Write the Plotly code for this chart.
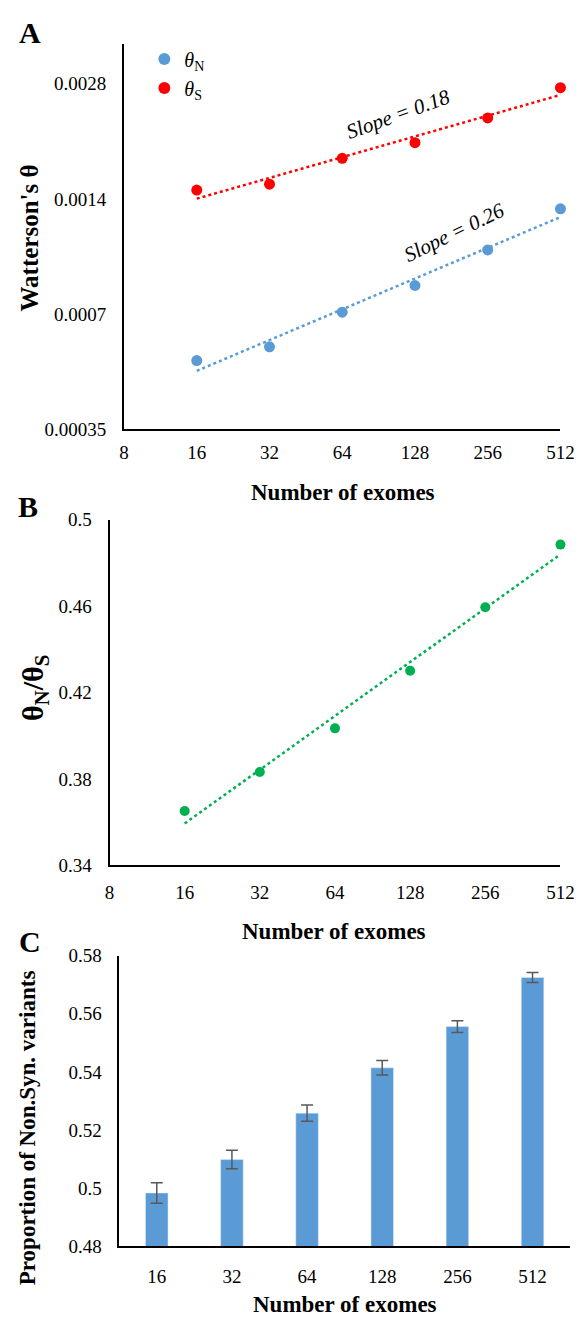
import numpy as np
import plotly.graph_objects as go

# ---------------- data ----------------
exomes = [16, 32, 64, 128, 256, 512]
exome_labels = ["16", "32", "64", "128", "256", "512"]
x_tick_vals = [8, 16, 32, 64, 128, 256, 512]
x_tick_text = ["8", "16", "32", "64", "128", "256", "512"]

theta_N = [0.000529, 0.000575, 0.000708, 0.000832, 0.00103, 0.001319]
theta_S = [0.001477, 0.00153, 0.001787, 0.001964, 0.00228, 0.002734]
yA_tick_vals = [0.00035, 0.0007, 0.0014, 0.0028]
yA_tick_text = ["0.00035", "0.0007", "0.0014", "0.0028"]

ratio_NS = [0.3651, 0.3832, 0.4034, 0.4301, 0.4595, 0.4885]
yB_tick_vals = [0.34, 0.38, 0.42, 0.46, 0.5]
yB_tick_text = ["0.34", "0.38", "0.42", "0.46", "0.5"]

prop_nonsyn = [0.4983, 0.5098, 0.5258, 0.5414, 0.5556, 0.5725]
prop_err = [0.0035, 0.0032, 0.0028, 0.0025, 0.0020, 0.0017]
yC_tick_vals = [0.48, 0.5, 0.52, 0.54, 0.56, 0.58]
yC_tick_text = ["0.48", "0.5", "0.52", "0.54", "0.56", "0.58"]

BLUE = "#5B9BD5"
RED = "#FF0000"
GREEN = "#00B050"
FONT = "Liberation Serif"

W, H = 588, 1325
def px(x):
    return x / W
def py(y):
    return 1 - y / H

# ---------------- fits ----------------
lx = np.log2(exomes)
def power_fit(vals):
    b, a = np.polyfit(lx, np.log2(vals), 1)
    return list(2 ** (a + b * lx))
def log_fit(vals):
    b, a = np.polyfit(lx, vals, 1)
    return list(a + b * lx)

fit_N = power_fit(theta_N)
fit_S = power_fit(theta_S)
fit_R = log_fit(ratio_NS)

fig = go.Figure()

# Panel A
fig.add_trace(go.Scatter(x=exomes, y=fit_N, mode="lines", xaxis="x", yaxis="y", cliponaxis=False,
                         line=dict(color=BLUE, width=2.5, dash="dot"), showlegend=False, hoverinfo="skip"))
fig.add_trace(go.Scatter(x=exomes, y=fit_S, mode="lines", xaxis="x", yaxis="y", cliponaxis=False,
                         line=dict(color=RED, width=2.5, dash="dot"), showlegend=False, hoverinfo="skip"))
fig.add_trace(go.Scatter(x=exomes, y=theta_N, mode="markers", xaxis="x", yaxis="y", cliponaxis=False,
                         marker=dict(color=BLUE, size=11), name="<i>θ</i><sub>N</sub>"))
fig.add_trace(go.Scatter(x=exomes, y=theta_S, mode="markers", xaxis="x", yaxis="y", cliponaxis=False,
                         marker=dict(color=RED, size=11), name="<i>θ</i><sub>S</sub>"))

# Panel B
fig.add_trace(go.Scatter(x=exomes, y=fit_R, mode="lines", xaxis="x2", yaxis="y2", cliponaxis=False,
                         line=dict(color=GREEN, width=2.5, dash="dot"), showlegend=False, hoverinfo="skip"))
fig.add_trace(go.Scatter(x=exomes, y=ratio_NS, mode="markers", xaxis="x2", yaxis="y2", cliponaxis=False,
                         marker=dict(color=GREEN, size=10), showlegend=False))

# Panel C
fig.add_trace(go.Bar(x=exome_labels, y=prop_nonsyn, xaxis="x3", yaxis="y3", width=0.3,
                     marker=dict(color=BLUE),
                     error_y=dict(type="data", array=prop_err, color="#595959", thickness=1.5, width=6),
                     showlegend=False))

tickfont = dict(family=FONT, size=19, color="black")
common_axis = dict(showgrid=False, zeroline=False, showline=True, linecolor="black",
                   ticks="", tickfont=tickfont, mirror=False, ticklabeloverflow="allow")

fig.update_layout(
    width=W, height=H,
    margin=dict(l=0, r=0, t=0, b=0),
    paper_bgcolor="white", plot_bgcolor="white",
    font=dict(family=FONT, color="black"),
    bargap=0.7,
    legend=dict(x=px(144), y=py(30), xanchor="left", yanchor="top",
                font=dict(family=FONT, size=20, color="black"),
                bgcolor="rgba(0,0,0,0)", itemsizing="constant", tracegroupgap=0),
    xaxis=dict(common_axis, type="log", domain=[px(123), px(574)],
               range=[np.log10(8), np.log10(512)], tickvals=x_tick_vals, ticktext=x_tick_text,
               anchor="y", linewidth=2, ticklabelstandoff=5),
    yaxis=dict(common_axis, type="log", domain=[py(426), py(35)],
               range=[np.log10(0.00035), np.log10(0.003547)], tickvals=yA_tick_vals, ticktext=yA_tick_text,
               anchor="x", linewidth=2, ticklabelstandoff=12),
    xaxis2=dict(common_axis, type="log", domain=[px(108), px(574)],
                range=[np.log10(8), np.log10(512)], tickvals=x_tick_vals, ticktext=x_tick_text,
                anchor="y2", linewidth=2, ticklabelstandoff=9),
    yaxis2=dict(common_axis, domain=[py(869), py(518)], range=[0.34, 0.5],
                tickvals=yB_tick_vals, ticktext=yB_tick_text,
                anchor="x2", linewidth=2, ticklabelstandoff=12),
    xaxis3=dict(common_axis, type="category", domain=[px(118), px(584)], range=[-0.5, 5.5],
                anchor="y3", linewidth=1.5, ticklabelstandoff=12),
    yaxis3=dict(common_axis, domain=[py(1256), py(961)], range=[0.48, 0.58],
                tickvals=yC_tick_vals, ticktext=yC_tick_text,
                anchor="x3", linewidth=1.5, ticklabelstandoff=12),
)

def ann(text, x, y, size, angle=0, **kw):
    fig.add_annotation(text=text, x=px(x), y=py(y), xref="paper", yref="paper",
                       showarrow=False, textangle=angle, xanchor="center", yanchor="middle",
                       font=dict(family=FONT, size=size, color="black"), **kw)

# panel letters
ann("<b>A</b>", 26, 23, 30)
ann("<b>B</b>", 24, 504, 30)
ann("<b>C</b>", 26, 946, 30)

# axis titles
ann("<b>Number of exomes</b>", 349, 490, 23)
ann("<b>Number of exomes</b>", 340, 936, 23)
ann("<b>Number of exomes</b>", 351, 1315, 23)
ann("<b>Watterson's θ</b>", 25, 232, 25, angle=-90)
ann("<b>θ<sub>N</sub>/θ<sub>S</sub></b>", 31, 688, 30, angle=-90)
ann("<b>Proportion of Non.Syn. variants</b>", 24, 1136, 23, angle=-90)

# slope labels
ann("<i>Slope = 0.18</i>", 407, 106, 21, angle=-20)
ann("<i>Slope = 0.26</i>", 465, 226, 21, angle=-26)

fig.write_html("out.html")
